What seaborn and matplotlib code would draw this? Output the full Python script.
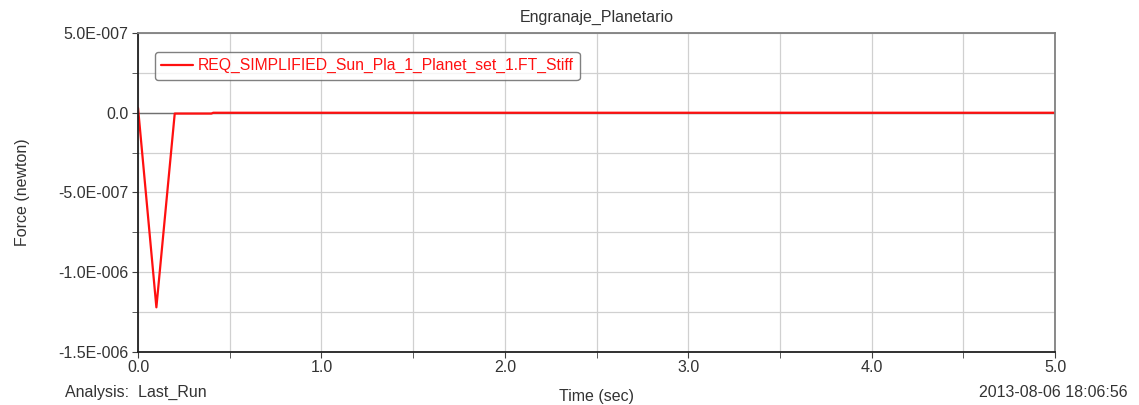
#imports
import numpy as np
import pandas as pd
import matplotlib
matplotlib.use("Agg")
import matplotlib.pyplot as plt
from matplotlib.ticker import MultipleLocator, FuncFormatter
import seaborn as sns

#data
time_sec = [0.0, 0.1, 0.2, 0.21, 0.4, 0.41, 1.0, 2.0, 3.0, 4.0, 5.0]
force_n = [3e-8, -1.22e-6, -5e-9, -5e-9, -5e-9, 0.0, 0.0, 0.0, 0.0, 0.0, 0.0]
series_name = "REQ_SIMPLIFIED_Sun_Pla_1_Planet_set_1.FT_Stiff"

df = pd.DataFrame({"Time": time_sec, "Force": force_n})

sns.set_style("white")
plt.rcParams['font.family'] = ['Liberation Sans', 'DejaVu Sans']
fs = 11.5

fig = plt.figure(figsize=(11.39, 4.05), dpi=100)
ax = fig.add_axes([0.1212, 0.1309, 0.8051, 0.7876])

sns.lineplot(data=df, x="Time", y="Force", color="#ff1010", linewidth=1.6,
             label=series_name, ax=ax)

ax.set_xlim(0, 5)
ax.set_ylim(-1.5e-6, 5e-7)

#ticks and grid
ax.xaxis.set_major_locator(MultipleLocator(1.0))
ax.xaxis.set_minor_locator(MultipleLocator(0.5))
ax.yaxis.set_major_locator(MultipleLocator(5e-7))
ax.yaxis.set_minor_locator(MultipleLocator(2.5e-7))
ax.xaxis.set_major_formatter(FuncFormatter(lambda v, p: f"{v:.1f}"))

def yfmt(v, p):
    if abs(v) < 1e-12:
        return "0.0"
    mant, exp = f"{v:.1E}".split("E")
    e = int(exp)
    return f"{mant}E{'-' if e < 0 else ''}{abs(e):03d}"

ax.yaxis.set_major_formatter(FuncFormatter(yfmt))
ax.grid(True, which="both", color="#d0d0d0", linewidth=0.9)
ax.axhline(0, color="#707070", linewidth=1.0, zorder=1)
ax.tick_params(which="both", direction="out", length=4, color="#404040",
               labelsize=fs, labelcolor="#333333", left=True, bottom=True)
ax.tick_params(axis="x", pad=2)
ax.tick_params(axis="y", pad=3)

for side in ["top", "right"]:
    ax.spines[side].set_color("#808080")
    ax.spines[side].set_linewidth(1.3)
for side in ["left", "bottom"]:
    ax.spines[side].set_color("#202020")
    ax.spines[side].set_linewidth(1.3)

ax.set_xlabel("Time (sec)", fontsize=fs, color="#333333", labelpad=10)
ax.set_ylabel("Force (newton)", fontsize=fs, color="#333333", labelpad=20)
ax.set_title("Engranaje_Planetario", fontsize=fs, color="#333333", pad=8)

leg = ax.legend(loc="upper left", bbox_to_anchor=(0.01, 0.965), fontsize=11.3,
                frameon=True, fancybox=True, edgecolor="#606060",
                handlelength=2.0, handletextpad=0.3, borderpad=0.4)
leg.get_frame().set_linewidth(1.0)
for t in leg.get_texts():
    t.set_color("#ff1010")

fig.text(0.057, 0.02, "Analysis:  Last_Run", fontsize=fs, color="#333333")
fig.text(0.99, 0.02, "2013-08-06 18:06:56", fontsize=fs, color="#333333", ha="right")

fig.savefig("out.png", dpi=100)
